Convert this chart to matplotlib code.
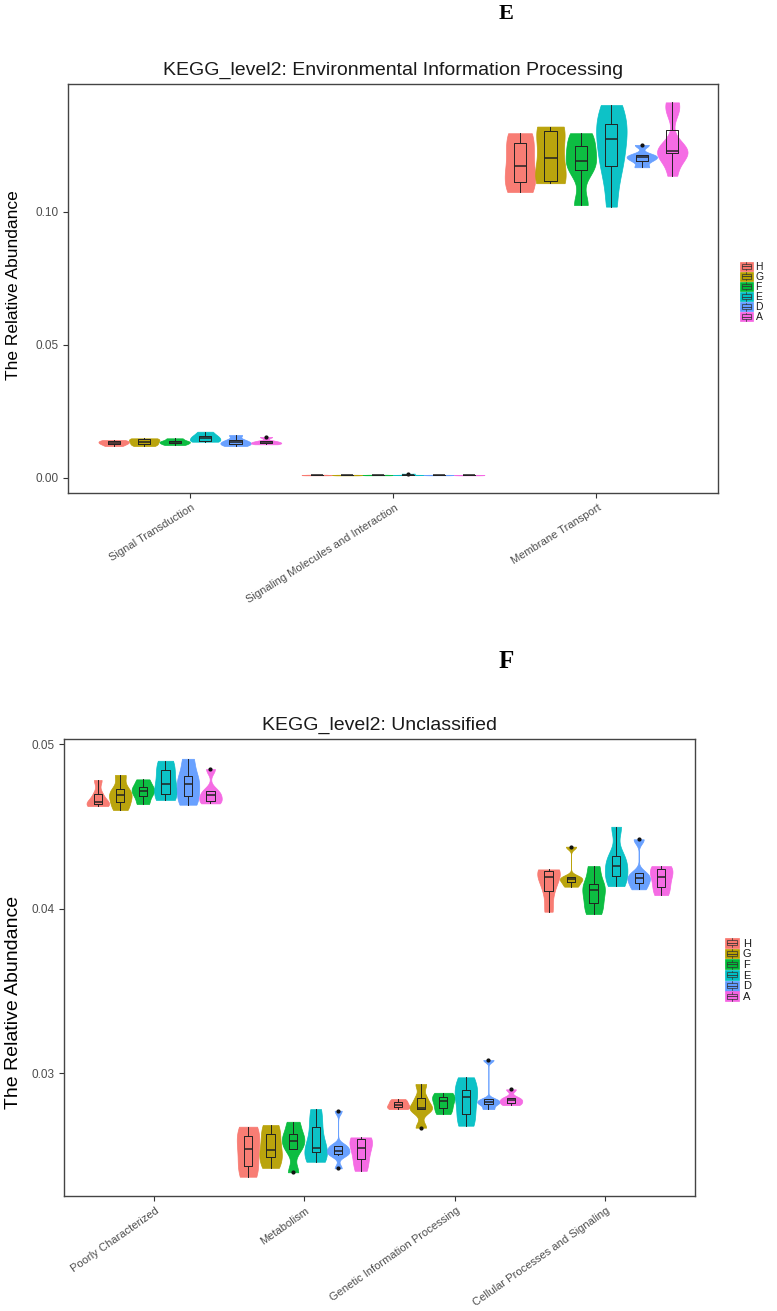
import numpy as np
import matplotlib
matplotlib.use("Agg")
import matplotlib.pyplot as plt
from matplotlib.patches import Rectangle
from matplotlib.lines import Line2D
from matplotlib.legend_handler import HandlerBase
from matplotlib.ticker import FormatStrFormatter
from matplotlib.transforms import ScaledTranslation

plt.rcParams["font.family"] = ["Liberation Sans", "DejaVu Sans"]

groups = ["H", "G", "F", "E", "D", "A"]
colors = ["#F8766D", "#B79F00", "#00BA38", "#00BFC4", "#619CFF", "#F564E3"]

# panel E: KEGG level2 Environmental Information Processing (one list per group, order H..A)
env_categories = ["Signal Transduction", "Signaling Molecules and Interaction", "Membrane Transport"]
signal_transduction = [
    [0.01192, 0.01267, 0.01316, 0.01368, 0.01416],
    [0.01192, 0.01267, 0.01353, 0.01444, 0.01481],
    [0.01229, 0.01293, 0.01342, 0.01391, 0.01481],
    [0.01353, 0.01391, 0.01504, 0.01579, 0.01729],
    [0.01192, 0.01267, 0.01331, 0.01417, 0.01605],
    [0.01256, 0.01293, 0.01331, 0.01380, 0.01530],
]
signaling_molecules = [
    [0.00090, 0.00095, 0.00100, 0.00105, 0.00112],
    [0.00088, 0.00094, 0.00099, 0.00104, 0.00110],
    [0.00092, 0.00096, 0.00101, 0.00105, 0.00111],
    [0.00095, 0.00100, 0.00104, 0.00108, 0.00150],
    [0.00091, 0.00096, 0.00100, 0.00104, 0.00109],
    [0.00089, 0.00094, 0.00098, 0.00102, 0.00108],
]
membrane_transport = [
    [0.1074, 0.1113, 0.1173, 0.1257, 0.1295],
    [0.1107, 0.1117, 0.1203, 0.1305, 0.1320],
    [0.1025, 0.1157, 0.1192, 0.1247, 0.1295],
    [0.1019, 0.1150, 0.1196, 0.1273, 0.1300, 0.1358, 0.1401],
    [0.1167, 0.1192, 0.1205, 0.1213, 0.1251],
    [0.1135, 0.1215, 0.1225, 0.1228, 0.1232, 0.1380, 0.1411],
]

# panel F: KEGG level2 Unclassified
unc_categories = ["Poorly Characterized", "Metabolism", "Genetic Information Processing",
                  "Cellular Processes and Signaling"]
poorly_characterized = [
    [0.04624, 0.04636, 0.04646, 0.04697, 0.04782],
    [0.04600, 0.04650, 0.04691, 0.04725, 0.04813],
    [0.04636, 0.04685, 0.04717, 0.04741, 0.04786],
    [0.04661, 0.04697, 0.04756, 0.04843, 0.04899],
    [0.04632, 0.04687, 0.04758, 0.04806, 0.04911],
    [0.04640, 0.04656, 0.04691, 0.04717, 0.04849],
]
metabolism = [
    [0.02372, 0.02437, 0.02540, 0.02619, 0.02676],
    [0.02426, 0.02490, 0.02534, 0.02631, 0.02686],
    [0.02399, 0.02538, 0.02589, 0.02630, 0.02706],
    [0.02463, 0.02520, 0.02548, 0.02672, 0.02783],
    [0.02423, 0.02505, 0.02514, 0.02528, 0.02554, 0.02560, 0.02773],
    [0.02408, 0.02478, 0.02548, 0.02601, 0.02611],
]
genetic_information = [
    [0.02783, 0.02793, 0.02807, 0.02827, 0.02844],
    [0.02670, 0.02783, 0.02787, 0.02848, 0.02935],
    [0.02753, 0.02787, 0.02832, 0.02858, 0.02882],
    [0.02682, 0.02751, 0.02854, 0.02899, 0.02976],
    [0.02783, 0.02813, 0.02827, 0.02842, 0.03081],
    [0.02807, 0.02822, 0.02838, 0.02852, 0.02903],
]
cellular_processes = [
    [0.03982, 0.04109, 0.04191, 0.04231, 0.04239],
    [0.04134, 0.04160, 0.04180, 0.04194, 0.04377],
    [0.03968, 0.04036, 0.04114, 0.04150, 0.04259],
    [0.04138, 0.04199, 0.04261, 0.04322, 0.04498],
    [0.04118, 0.04158, 0.04187, 0.04215, 0.04422],
    [0.04083, 0.04134, 0.04194, 0.04239, 0.04259],
]


def nrd0(kde):
    # R's default bandwidth (bw.nrd0), as used by ggplot's geom_violin
    x = kde.dataset.ravel()
    sd = x.std(ddof=1)
    q75, q25 = np.percentile(x, [75, 25])
    lo = min(sd, (q75 - q25) / 1.34)
    if lo <= 0:
        lo = sd
    return 0.9 * lo * len(x) ** -0.2 / sd


class KeyHandler(HandlerBase):
    def create_artists(self, legend, orig_handle, xdescent, ydescent, width, height, fontsize, trans):
        x0, y0 = -xdescent, -ydescent
        col = orig_handle.get_facecolor()
        bg = Rectangle((x0, y0), width, height, facecolor=col, edgecolor=col, lw=0.5, transform=trans)
        box = Rectangle((x0 + 0.15 * width, y0 + 0.25 * height), 0.7 * width, 0.5 * height,
                        fill=False, edgecolor="#333333", lw=0.5, transform=trans)
        xm = x0 + 0.5 * width
        med = Line2D([x0 + 0.15 * width, x0 + 0.85 * width], [y0 + 0.5 * height] * 2,
                     color="#333333", lw=0.6, transform=trans)
        w1 = Line2D([xm, xm], [y0 + 0.05 * height, y0 + 0.25 * height], color="#333333", lw=0.5, transform=trans)
        w2 = Line2D([xm, xm], [y0 + 0.75 * height, y0 + 0.95 * height], color="#333333", lw=0.5, transform=trans)
        return [bg, box, med, w1, w2]


def draw_panel(ax, categories, series, box_w):
    dodge = 0.15
    base = np.arange(1, len(categories) + 1)
    for j, col in enumerate(colors):
        data = [cat[j] for cat in series]
        pos = base + (j - 2.5) * dodge
        vp = ax.violinplot(data, positions=pos, widths=dodge, showextrema=False,
                           bw_method=nrd0, points=200)
        for b in vp["bodies"]:
            b.set_facecolor(col)
            b.set_edgecolor(col)
            b.set_alpha(0.95)
            b.set_linewidth(0.5)
        ax.boxplot(data, positions=pos, widths=box_w, showcaps=False, manage_ticks=False,
                   boxprops=dict(color="#222222", lw=0.7),
                   whiskerprops=dict(color="#222222", lw=0.7),
                   medianprops=dict(color="#222222", lw=1.1),
                   flierprops=dict(marker="o", markersize=2, markerfacecolor="#111111",
                                   markeredgecolor="#111111"))
    ax.set_xlim(0.4, len(categories) + 0.6)
    ax.set_xticks(base)
    for s in ax.spines.values():
        s.set_color("#444444")
        s.set_linewidth(1.0)
    ax.tick_params(axis="both", length=3.5, width=0.8, color="#333333", labelcolor="#4D4D4D")
    ax.yaxis.set_major_formatter(FormatStrFormatter("%.2f"))


fig = plt.figure(figsize=(7.77, 13.11), dpi=100)

# ---- panel E
ax1 = fig.add_axes([68 / 777, 1 - 493 / 1311, 650 / 777, 409 / 1311])
draw_panel(ax1, env_categories, [signal_transduction, signaling_molecules, membrane_transport], 0.06)
ax1.set_ylim(-0.00575, 0.148)
ax1.set_yticks([0.0, 0.05, 0.10])
ax1.set_xticklabels(env_categories, rotation=32, ha="right", fontsize=8)
ax1.tick_params(axis="y", labelsize=8.5)
ax1.set_title("KEGG_level2: Environmental Information Processing", fontsize=14, pad=6.5, color="#1a1a1a")
ax1.set_ylabel("The Relative Abundance", fontsize=12.5,
               family=["Liberation Sans Narrow", "Liberation Sans"], va="center")
ax1.yaxis.set_label_coords(-0.0846, 0.509)

# ---- panel F
ax2 = fig.add_axes([64 / 777, 1 - 1196 / 1311, 631 / 777, 457.3 / 1311])
draw_panel(ax2, unc_categories, [poorly_characterized, metabolism, genetic_information, cellular_processes], 0.055)
ax2.set_ylim(0.02255, 0.05033)
ax2.set_yticks([0.03, 0.04, 0.05])
ax2.set_xticklabels(unc_categories, rotation=35, ha="right", fontsize=8)
ax2.tick_params(axis="y", labelsize=8.5)
ax2.set_title("KEGG_level2: Unclassified", fontsize=14, pad=6.5, color="#1a1a1a")
ax2.set_ylabel("The Relative Abundance", fontsize=14,
               family=["Liberation Sans Narrow", "Liberation Sans"], va="center")
ax2.yaxis.set_label_coords(-0.0808, 0.424)

shift = ScaledTranslation(7 / 100, 0, fig.dpi_scale_trans)
for ax in (ax1, ax2):
    for lab in ax.get_xticklabels():
        lab.set_transform(lab.get_transform() + shift)

# legends
handles = [Rectangle((0, 0), 1, 1, facecolor=c) for c in colors]
ax1.legend(handles, groups, handler_map={Rectangle: KeyHandler()}, loc="upper left",
           bbox_to_anchor=(740 / 777, 1 - 261.8 / 1311), bbox_transform=fig.transFigure,
           frameon=False, fontsize=7.5, handlelength=1.2, handleheight=0.95, labelspacing=0.0,
           handletextpad=0.3, borderpad=0, borderaxespad=0, labelcolor="#1a1a1a")
ax2.legend(handles, groups, handler_map={Rectangle: KeyHandler()}, loc="upper left",
           bbox_to_anchor=(725 / 777, 1 - 937.9 / 1311), bbox_transform=fig.transFigure,
           frameon=False, fontsize=8, handlelength=1.3, handleheight=0.98, labelspacing=0.0,
           handletextpad=0.3, borderpad=0, borderaxespad=0, labelcolor="#1a1a1a")

# panel letters
fig.text(506 / 777, 1 - 14 / 1311, "E", ha="center", va="center", fontsize=16,
         fontweight="bold", family=["Liberation Serif", "DejaVu Serif"])
fig.text(506 / 777, 1 - 661.7 / 1311, "F", ha="center", va="center", fontsize=18,
         fontweight="bold", family=["Liberation Serif", "DejaVu Serif"])

fig.savefig("out.png", dpi=100)
